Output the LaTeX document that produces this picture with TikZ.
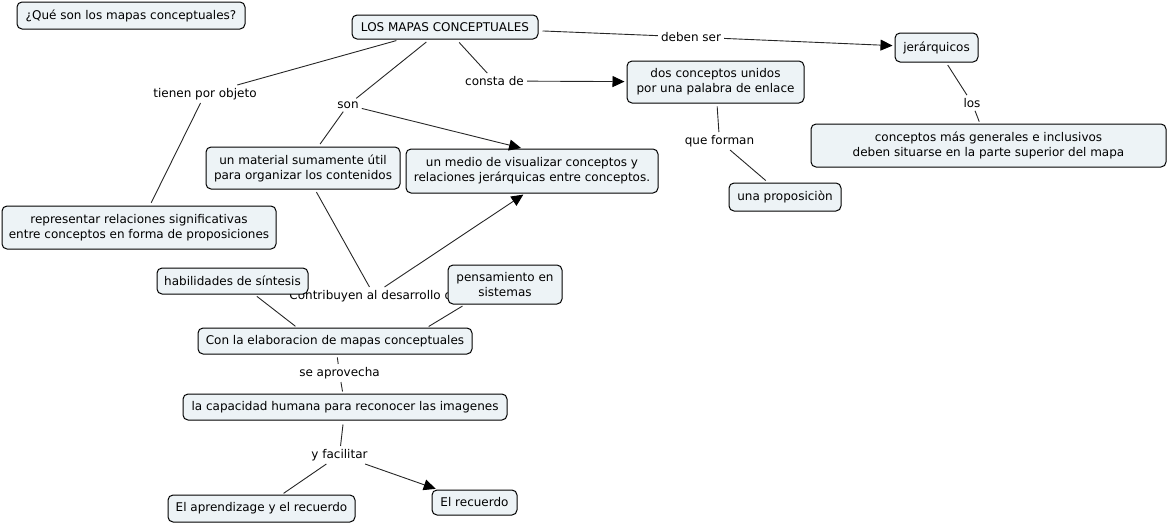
\documentclass[tikz,border=0pt]{standalone}
\usepackage{fontspec}
\setmainfont{DejaVu Sans}
\usetikzlibrary{arrows.meta}
\definecolor{cfill}{RGB}{237,243,246}
\begin{document}
\begin{tikzpicture}[x=1pt,y=-1pt,
  every node/.style={font=\fontsize{12}{15}\selectfont},
  concept/.style={draw=black, fill=cfill, rounded corners=5pt, line width=1pt, inner sep=0pt, align=center},
  lbl/.style={inner sep=3pt, align=center},
  conn/.style={line width=0.9pt, draw=black!85},
  arr/.style={conn, -{Triangle[length=12pt,width=11pt,color=black]}}]
\useasboundingbox (0,0) rectangle (1169,525);

% link labels
\node[lbl] (deben) at (691,37) {deben ser};
\node[lbl] (consta) at (494.5,81) {consta de};
\node[lbl] (tienen) at (205,94) {tienen por objeto};
\node[lbl] (son) at (348,105) {son};
\node[lbl] (forman) at (719.5,141) {que forman};
\node[lbl] (los) at (972,103) {los};
\node[lbl] (contrib) at (374.5,296) {Contribuyen al desarrollo de};
\node[lbl] (aprov) at (339.5,373) {se aprovecha};
\node[lbl] (facil) at (339.5,455) {y facilitar};

% concepts
\node[concept, minimum width=228, minimum height=27] (q) at (131,15.5) {¿Qué son los mapas conceptuales?};
\node[concept, minimum width=186, minimum height=24] (main) at (445,27) {LOS MAPAS CONCEPTUALES};
\node[concept, minimum width=83, minimum height=29] (jer) at (936.5,47.5) {jerárquicos};
\node[concept, minimum width=177, minimum height=42] (dos) at (715.5,82) {dos conceptos unidos\\por una palabra de enlace};
\node[concept, minimum width=355, minimum height=43] (conc) at (988.5,145.5) {conceptos más generales e inclusivos\\deben situarse en la parte superior del mapa};
\node[concept, minimum width=112, minimum height=28] (prop) at (785,197) {una proposiciòn};
\node[concept, minimum width=194, minimum height=42] (mat) at (303,168) {un material sumamente útil\\para organizar los contenidos};
\node[concept, minimum width=252, minimum height=44] (medio) at (532,171) {un medio de visualizar conceptos y\\relaciones jerárquicas entre conceptos.};
\node[concept, minimum width=274, minimum height=43] (rep) at (139,227.5) {representar relaciones significativas\\entre conceptos en forma de proposiciones};
\node[concept, minimum width=151, minimum height=26] (hab) at (232.5,281) {habilidades de síntesis};
\node[concept, minimum width=114, minimum height=39] (pens) at (505,284.5) {pensamiento en\\sistemas};
\node[concept, minimum width=274, minimum height=26] (con) at (335,341) {Con la elaboracion de mapas conceptuales};
\node[concept, minimum width=324, minimum height=26] (cap) at (345,407) {la capacidad humana para reconocer las imagenes};
\node[concept, minimum width=187, minimum height=27] (apr) at (261.5,508.5) {El aprendizage y el recuerdo};
\node[concept, minimum width=85, minimum height=25] (rec) at (474.5,502.5) {El recuerdo};

% connectors
\draw[conn, shorten <=4pt] (main) -- (deben);
\draw[arr, shorten >=2pt] (deben) -- (jer);
\draw[conn, shorten <=4pt] (main) -- (consta);
\draw[arr, shorten >=2pt] (consta) -- (dos);
\draw[conn, shorten <=4pt] (main) -- (tienen);
\draw[conn, shorten >=3pt] (tienen) -- (rep);
\draw[conn, shorten <=4pt] (main) -- (son);
\draw[conn, shorten >=3pt] (son) -- (mat);
\draw[arr, shorten >=2pt] (son) -- ([xshift=-9pt]medio.north);
\draw[conn, shorten <=3pt] (mat) -- (contrib);
\draw[arr, shorten >=2pt] ([xshift=10pt]contrib.north) -- ([xshift=-7pt]medio.south);
\draw[conn, shorten <=3pt] (dos) -- (forman);
\draw[conn, shorten >=3pt] (forman) -- (prop);
\draw[conn, shorten <=3pt] (jer) -- (los);
\draw[conn, shorten >=2pt] (los) -- (conc);
\draw[conn, shorten <=3pt, shorten >=2pt] ([xshift=22pt]hab.south) -- ([xshift=-38pt]con.north);
\draw[conn, shorten <=3pt, shorten >=2pt] ([xshift=-40pt]pens.south) -- ([xshift=92pt]con.north);
\draw[conn, shorten <=3pt] (con) -- (aprov);
\draw[conn, shorten >=2pt] (aprov) -- (cap);
\draw[conn, shorten <=4pt] (cap) -- (facil);
\draw[conn, shorten >=2pt] (facil) -- (apr);
\draw[arr, shorten >=2pt] (facil) -- (rec);
\end{tikzpicture}
\end{document}
